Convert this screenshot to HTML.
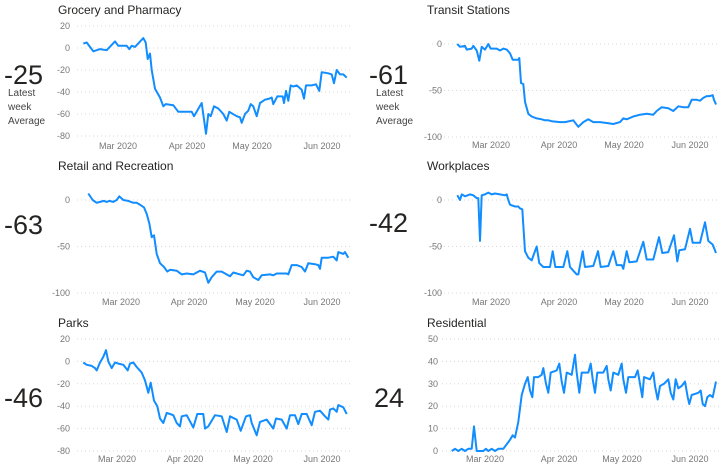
<!DOCTYPE html>
<html><head><meta charset="utf-8"><style>
html,body{margin:0;padding:0;background:#fff;overflow:hidden;}
svg{display:block;font-family:"Liberation Sans",sans-serif;}
.t{font-size:12px;fill:#252423;}
.big{font-size:27px;fill:#252423;}
.sm{font-size:10px;fill:#444;}
.ax{font-size:9px;fill:#777;}
.g{stroke:#d8d8d8;stroke-width:1;stroke-dasharray:1 3;}
.l{fill:none;stroke:#118DFF;stroke-width:2;stroke-linejoin:round;}
</style></head><body>
<svg id="s" width="725" height="471" viewBox="0 0 725 471" xmlns="http://www.w3.org/2000/svg">
<text class="t" x="58" y="14">Grocery and Pharmacy</text>
<text class="t" x="427" y="14">Transit Stations</text>
<text class="t" x="58" y="170">Retail and Recreation</text>
<text class="t" x="427" y="170">Workplaces</text>
<text class="t" x="58" y="327">Parks</text>
<text class="t" x="427" y="327">Residential</text>
<text class="big" x="4" y="84">-25</text>
<text class="sm" x="8" y="96">Latest</text><text class="sm" x="8" y="110">week</text><text class="sm" x="8" y="124">Average</text>
<text class="big" x="369" y="84">-61</text>
<text class="sm" x="376" y="96">Latest</text><text class="sm" x="376" y="110">week</text><text class="sm" x="376" y="124">Average</text>
<text class="big" x="4" y="234">-63</text>
<text class="big" x="369" y="232">-42</text>
<text class="big" x="4" y="407">-46</text>
<text class="big" x="374" y="407">24</text>
<g id="c"></g>
</svg>
<script>
var ns="http://www.w3.org/2000/svg",c=document.getElementById('c');
function el(n,a,t){var e=document.createElementNS(ns,n);for(var k in a)e.setAttribute(k,a[k]);if(t!=null)e.textContent=t;c.appendChild(e);return e;}
function chart(o){
 o.ticks.forEach(function(v){var y=o.y0-v*o.k;
  el('line',{x1:o.gx0,x2:o.gx1,y1:y,y2:y,'class':'g'});
  el('text',{x:o.lx,y:y+3,'text-anchor':'end','class':'ax'},String(v));});
 var m=['Mar 2020','Apr 2020','May 2020','Jun 2020'];
 o.mx.forEach(function(x,i){el('text',{x:x,y:o.my+3,'text-anchor':'middle','class':'ax'},m[i]);});
 var p=o.pts.map(function(q){return (o.ox+q[0]/3).toFixed(1)+','+(o.y0-q[1]*o.k).toFixed(1);}).join(' ');
 el('polyline',{points:p,'class':'l'});
}
chart({ox:0,y0:48,k:1.1,ticks:[20,0,-20,-40,-60,-80],gx0:77,gx1:350,lx:70,mx:[118,187,252,322],my:146,
pts:[[250,4],[260,5],[270,1],[280,-3],[300,-1],[320,-2],[345,6],[355,2],[380,2],[388,-1],[395,2],[405,1],[430,9],[437,5],[443,-10],[450,-5],[455,-20],[465,-37],[480,-45],[490,-53],[497,-51],[520,-52],[535,-58],[575,-58],[582,-62],[605,-50],[618,-78],[625,-60],[632,-62],[642,-53],[655,-55],[670,-60],[680,-66],[688,-58],[710,-62],[720,-63],[725,-68],[735,-60],[745,-57],[752,-51],[760,-53],[770,-62],[780,-50],[795,-47],[808,-46],[815,-45],[820,-51],[832,-44],[848,-44],[852,-50],[858,-39],[865,-48],[872,-34],[880,-35],[890,-34],[905,-38],[912,-46],[918,-34],[935,-34],[948,-33],[958,-39],[965,-22],[985,-23],[995,-24],[1002,-32],[1010,-20],[1020,-24],[1030,-24],[1040,-27]]});
chart({ox:360,y0:44,k:0.93,ticks:[0,-50,-100],gx0:432,gx1:720,lx:442,mx:[491,559,624,690],my:145,
pts:[[292,0],[300,-3],[315,-2],[320,-6],[335,-5],[340,-2],[350,-7],[358,-18],[365,-3],[375,-6],[385,0],[392,-5],[410,-5],[420,-7],[430,-5],[440,-6],[450,-10],[458,-17],[475,-17],[478,-15],[483,-42],[490,-43],[495,-62],[505,-75],[515,-78],[530,-80],[545,-81],[555,-82],[565,-82],[575,-83],[600,-84],[615,-84],[640,-82],[655,-89],[670,-84],[685,-81],[700,-84],[720,-84],[740,-85],[760,-86],[780,-84],[790,-80],[800,-81],[820,-78],[840,-76],[860,-75],[880,-76],[890,-72],[905,-68],[925,-69],[940,-72],[955,-67],[970,-68],[985,-68],[995,-60],[1010,-60],[1020,-61],[1030,-58],[1040,-56],[1050,-56],[1058,-55],[1062,-60],[1068,-65]]});
chart({ox:0,y0:200,k:0.93,ticks:[0,-50,-100],gx0:77,gx1:350,lx:70,mx:[121,189,255,322],my:302,
pts:[[265,7],[278,0],[290,-3],[300,-2],[312,-1],[320,-2],[328,-1],[340,-2],[350,0],[358,4],[370,0],[385,-1],[400,-3],[410,-3],[420,-5],[432,-8],[440,-15],[448,-25],[455,-40],[462,-38],[470,-58],[480,-68],[492,-72],[502,-77],[510,-75],[530,-76],[545,-80],[560,-79],[580,-80],[600,-76],[615,-78],[625,-89],[635,-83],[650,-77],[665,-77],[690,-82],[700,-78],[720,-80],[730,-81],[740,-76],[750,-77],[760,-83],[775,-86],[785,-81],[810,-80],[820,-81],[830,-79],[860,-79],[865,-80],[875,-70],[890,-70],[905,-72],[915,-77],[925,-68],[945,-69],[955,-70],[960,-74],[965,-62],[985,-62],[1000,-61],[1010,-65],[1015,-56],[1030,-58],[1035,-56],[1045,-62]]});
chart({ox:360,y0:200,k:0.93,ticks:[0,-50,-100],gx0:432,gx1:720,lx:442,mx:[491,559,624,690],my:302,
pts:[[292,5],[300,0],[305,6],[315,4],[330,6],[340,5],[350,2],[355,2],[360,-44],[365,5],[375,6],[385,8],[395,6],[405,7],[420,6],[435,5],[440,6],[445,0],[450,-5],[465,-7],[475,-7],[480,-9],[487,-10],[495,-55],[505,-62],[515,-65],[520,-60],[530,-50],[538,-68],[550,-72],[570,-72],[578,-55],[586,-72],[610,-72],[622,-55],[630,-72],[640,-76],[650,-80],[655,-80],[668,-55],[675,-72],[700,-71],[714,-55],[722,-72],[745,-71],[760,-55],[770,-70],[785,-70],[790,-74],[800,-55],[808,-67],[830,-66],[850,-45],[860,-64],[880,-64],[897,-40],[907,-57],[925,-56],[942,-38],[952,-66],[958,-54],[975,-53],[990,-31],[998,-46],[1020,-46],[1035,-24],[1045,-44],[1058,-48],[1068,-57]]});
chart({ox:0,y0:361.4,k:1.12,ticks:[20,0,-20,-40,-60,-80],gx0:77,gx1:350,lx:70,mx:[117,185,253,322],my:459,
pts:[[250,-1],[260,-3],[275,-4],[285,-6],[290,-8],[300,-1],[310,4],[318,10],[325,0],[335,-6],[345,-1],[355,-2],[370,-3],[383,-8],[390,-2],[400,-1],[410,-5],[425,-10],[435,-17],[445,-28],[452,-19],[462,-35],[472,-40],[480,-51],[490,-55],[500,-46],[510,-47],[520,-48],[530,-55],[540,-58],[545,-49],[560,-48],[580,-59],[592,-47],[610,-47],[615,-60],[625,-58],[645,-48],[665,-49],[680,-63],[690,-49],[710,-52],[722,-62],[738,-49],[750,-48],[755,-55],[770,-66],[780,-54],[800,-52],[815,-58],[820,-60],[828,-51],[845,-52],[860,-60],[870,-48],[885,-48],[895,-56],[905,-47],[920,-47],[935,-57],[945,-45],[960,-44],[975,-49],[985,-52],[990,-43],[1000,-42],[1010,-45],[1015,-39],[1030,-41],[1040,-47]]});
chart({ox:360,y0:451,k:2.24,ticks:[50,40,30,20,10,0],gx0:442,gx1:720,lx:438,mx:[485,559,622,690],my:459,
pts:[[275,0],[285,1],[295,0],[305,1],[315,0],[325,1],[335,1],[342,11],[350,0],[370,0],[378,1],[385,0],[395,1],[405,0],[415,1],[430,1],[440,3],[450,5],[458,7],[465,6],[475,13],[485,25],[495,30],[503,33],[510,27],[517,24],[522,33],[535,33],[545,34],[550,37],[558,30],[565,26],[572,35],[590,36],[598,39],[605,31],[612,26],[620,35],[635,34],[645,43],[650,35],[658,26],[665,35],[685,35],[692,39],[698,32],[705,26],[712,35],[730,35],[740,38],[745,32],[752,27],[760,35],[775,34],[785,39],[790,32],[798,26],[805,33],[825,33],[833,36],[840,30],[847,24],[852,33],[870,32],[880,35],[885,29],[893,23],[900,29],[912,30],[925,32],[932,26],[940,23],[947,32],[955,28],[965,29],[975,31],[983,24],[988,21],[995,25],[1015,26],[1022,27],[1028,21],[1035,20],[1042,24],[1050,25],[1058,24],[1068,31]]});
</script>
</body></html>
